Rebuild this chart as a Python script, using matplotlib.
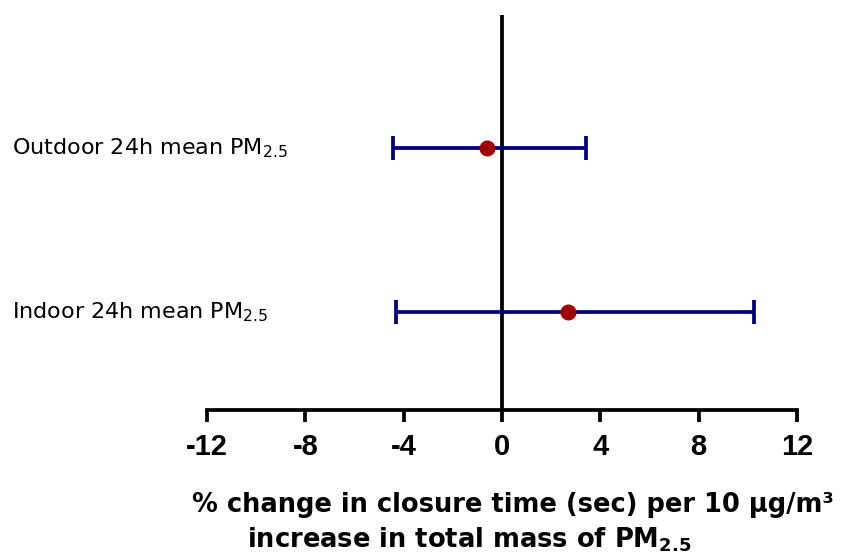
import numpy as np
import matplotlib.pyplot as plt

plt.rcParams['font.family'] = ['DejaVu Sans']
plt.rcParams['mathtext.fontset'] = 'custom'
plt.rcParams['mathtext.rm'] = 'DejaVu Sans'
plt.rcParams['mathtext.bf'] = 'DejaVu Sans:bold'

# exposure rows, estimates and 95% CI
labels = ['Outdoor 24h mean PM$_{2.5}$', 'Indoor 24h mean PM$_{2.5}$']
estimate = [-0.63, 2.67]
ci_low = [-4.45, -4.31]
ci_high = [3.42, 10.25]
rows = [2, 1]
xticks = [-12, -8, -4, 0, 4, 8, 12]

fig = plt.figure(figsize=(8.46, 5.59), dpi=100)
ax = fig.add_axes([0.2447, 0.2665, 0.6974, 0.7065])

est = np.array(estimate)
err = np.array([est - np.array(ci_low), np.array(ci_high) - est])

lw = 2.7
ax.axvline(0, color='black', lw=lw, zorder=1)
ax.errorbar(est, rows, xerr=err, fmt='none', ecolor='#000080', elinewidth=lw,
            capsize=8.5, capthick=lw, zorder=2)
ax.plot(est, rows, 'o', color='#a00000', ms=10.5, zorder=3)

ax.set_xlim(-12, 12)
ax.set_ylim(0.402, 2.811)
ax.set_xticks(xticks)
ax.set_xticklabels([str(t) for t in xticks], fontsize=21, fontweight='bold',
                   family=['Liberation Sans', 'DejaVu Sans'])
ax.tick_params(axis='x', direction='out', length=8.5, width=lw, pad=8)
ax.set_yticks([])
for s in ['top', 'right', 'left']:
    ax.spines[s].set_visible(False)
ax.spines['bottom'].set_linewidth(lw)

for lab, r in zip(labels, rows):
    ax.text(-0.33, r, lab, transform=ax.get_yaxis_transform(), fontsize=16,
            ha='left', va='center')

fig.text(0.227, 0.096, '% change in closure time (sec) per 10 µg/m³',
         fontsize=18.5, fontweight='bold', ha='left', va='center')
fig.text(0.292, 0.034, r'increase in total mass of PM$_{\mathbf{2.5}}$',
         fontsize=18.5, fontweight='bold', ha='left', va='center')

fig.savefig('out.png', dpi=100, facecolor='white')
